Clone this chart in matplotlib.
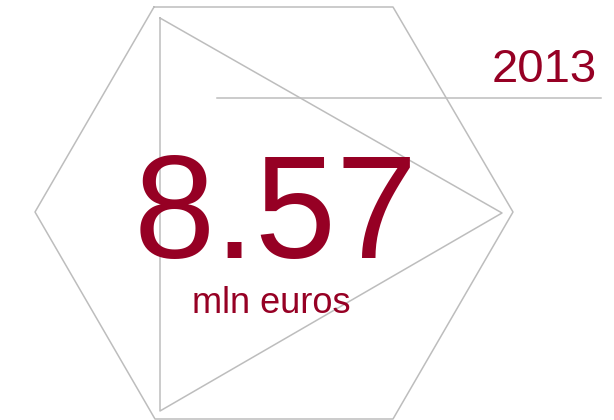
import matplotlib
matplotlib.use("Agg")
import matplotlib.pyplot as plt

# infographic content
year_label = "2013"
value_label = "8.57"
unit_label = "mln euros"

# shape outlines, in pixel coordinates of a 614x420 canvas
hexagon_x = [154, 393, 513, 393, 155, 35, 154]
hexagon_y = [7, 7, 212, 419, 419, 212, 7]
triangle_x = [160, 502, 160, 160]
triangle_y = [18, 213, 411, 18]
rule_x = [217, 601]
rule_y = [98, 98]

RED = "#960024"
GREY = "#bdbdbd"

fig = plt.figure(figsize=(6.14, 4.20), dpi=100)
ax = fig.add_axes([0, 0, 1, 1])
ax.set_xlim(0, 614)
ax.set_ylim(420, 0)
ax.axis("off")

ax.plot(hexagon_x, hexagon_y, color=GREY, lw=1.1, zorder=1)
ax.plot(triangle_x, triangle_y, color=GREY, lw=1.1, zorder=1)
ax.plot(rule_x, rule_y, color=GREY, lw=1.1, zorder=1)

font = ["Liberation Sans", "DejaVu Sans"]
ax.text(597, 82, year_label, color=RED, fontsize=34, ha="right",
        va="baseline", family=font, zorder=3)
ax.text(134, 258, value_label, color=RED, fontsize=105, ha="left",
        va="baseline", family=font, zorder=3)
ax.text(192, 313, unit_label, color=RED, fontsize=26, ha="left",
        va="baseline", family=font, zorder=3)

fig.savefig("out.png", dpi=100, facecolor="white")
